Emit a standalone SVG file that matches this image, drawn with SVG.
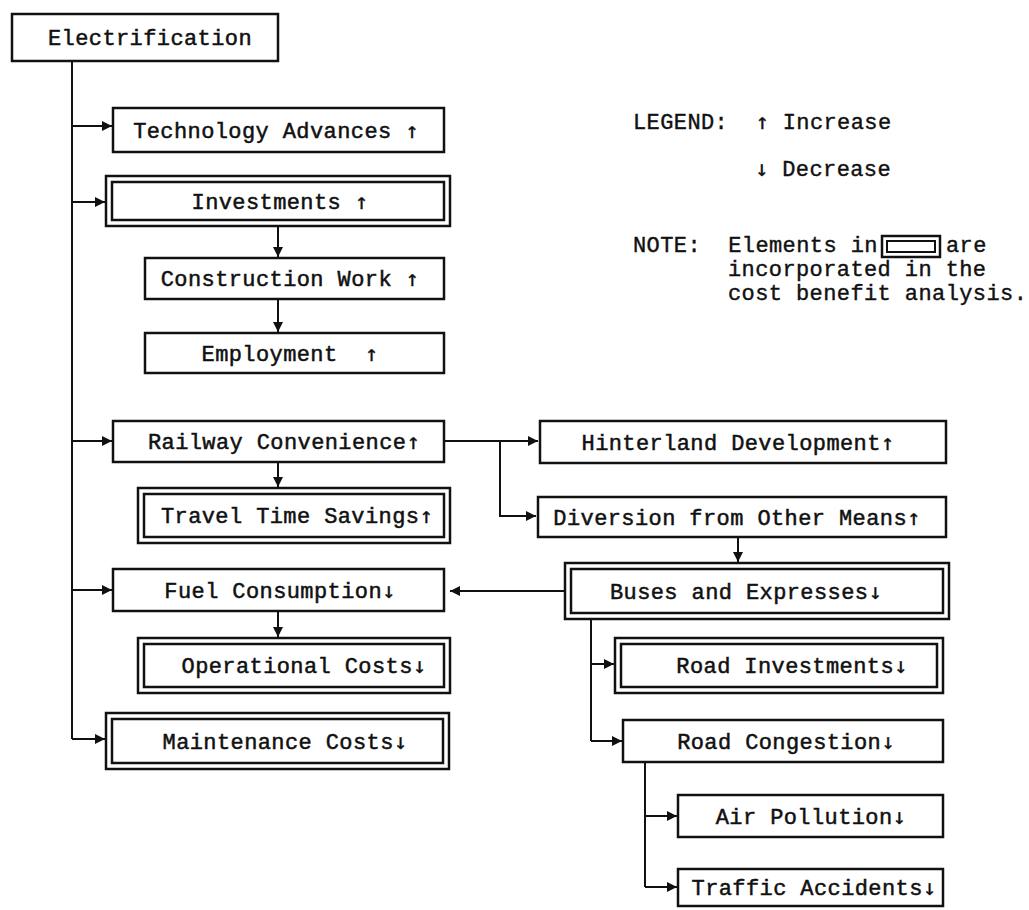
<svg xmlns="http://www.w3.org/2000/svg" width="1029" height="910" viewBox="0 0 1029 910">
<style>
  .box { fill: #fff; stroke: #111; stroke-width: 2.5; }
  .in { fill: none; stroke: #111; stroke-width: 2.5; }
  .t { font-family: "Liberation Mono", "Courier New", monospace; font-size: 22px; letter-spacing: 0.4px; fill: #111; stroke: #111; stroke-width: 0.5; text-anchor: middle; }
  .l { font-family: "Liberation Mono", "Courier New", monospace; font-size: 22px; letter-spacing: 0.4px; fill: #111; stroke: #111; stroke-width: 0.4; }
  .a { font-family: "DejaVu Sans Mono", "DejaVu Sans", monospace; fill: #111; stroke: #111; stroke-width: 0.3; }
  .c { fill: none; stroke: #111; stroke-width: 2; }
</style>
<defs>
  <marker id="ah" viewBox="0 0 10 10" refX="10" refY="5" markerWidth="6" markerHeight="5" orient="auto" markerUnits="strokeWidth">
    <path d="M0,0 L10,5 L0,10 Z" fill="#111"/>
  </marker>
</defs>
<rect width="1029" height="910" fill="#fff"/>

<g id="connectors">
  <path class="c" d="M72,61 V739"/>
  <path class="c" d="M72,126 H112" marker-end="url(#ah)"/>
  <path class="c" d="M72,202 H105" marker-end="url(#ah)"/>
  <path class="c" d="M278,226 V257" marker-end="url(#ah)"/>
  <path class="c" d="M278,299 V332" marker-end="url(#ah)"/>
  <path class="c" d="M72,441 H112" marker-end="url(#ah)"/>
  <path class="c" d="M278,462 V487" marker-end="url(#ah)"/>
  <path class="c" d="M72,590 H112" marker-end="url(#ah)"/>
  <path class="c" d="M278,611 V637" marker-end="url(#ah)"/>
  <path class="c" d="M72,739 H105" marker-end="url(#ah)"/>
  <path class="c" d="M444,441 H538" marker-end="url(#ah)"/>
  <path class="c" d="M500,441 V516 H536" marker-end="url(#ah)"/>
  <path class="c" d="M738,537 V562" marker-end="url(#ah)"/>
  <path class="c" d="M565,591 H450" marker-end="url(#ah)"/>
  <path class="c" d="M591,619 V741"/>
  <path class="c" d="M591,664 H614" marker-end="url(#ah)"/>
  <path class="c" d="M591,741 H622" marker-end="url(#ah)"/>
  <path class="c" d="M645,762 V887"/>
  <path class="c" d="M645,816 H677" marker-end="url(#ah)"/>
  <path class="c" d="M645,887 H677" marker-end="url(#ah)"/>
</g>

<g id="electrification">
  <rect class="box" x="12" y="14" width="266" height="47"/>
  <text class="t" x="150" y="45">Electrification</text>
</g>
<g id="technology">
  <rect class="box" x="113" y="108" width="331" height="44"/>
  <text class="t" x="276" y="138">Technology Advances <tspan class="a">↑</tspan></text>
</g>
<g id="investments">
  <rect class="box" x="106" y="176" width="344" height="50"/>
  <rect class="in" x="112" y="182" width="332" height="38"/>
  <text class="t" x="280" y="209">Investments <tspan class="a">↑</tspan></text>
</g>
<g id="construction">
  <rect class="box" x="145" y="258" width="299" height="41"/>
  <text class="t" x="290" y="286">Construction Work <tspan class="a">↑</tspan></text>
</g>
<g id="employment">
  <rect class="box" x="145" y="333" width="299" height="40"/>
  <text class="t" x="290" y="361" xml:space="preserve">Employment  <tspan class="a">↑</tspan></text>
</g>
<g id="railway">
  <rect class="box" x="113" y="421" width="331" height="41"/>
  <text class="t" x="284" y="449">Railway Convenience<tspan class="a">↑</tspan></text>
</g>
<g id="travel">
  <rect class="box" x="138" y="488" width="312" height="55"/>
  <rect class="in" x="144" y="494" width="300" height="43"/>
  <text class="t" x="297" y="523">Travel Time Savings<tspan class="a">↑</tspan></text>
</g>
<g id="fuel">
  <rect class="box" x="113" y="569" width="331" height="42"/>
  <text class="t" x="280" y="598">Fuel Consumption<tspan class="a">↓</tspan></text>
</g>
<g id="operational">
  <rect class="box" x="138" y="638" width="312" height="55"/>
  <rect class="in" x="144" y="644" width="300" height="43"/>
  <text class="t" x="304" y="673">Operational Costs<tspan class="a">↓</tspan></text>
</g>
<g id="maintenance">
  <rect class="box" x="106" y="713" width="343" height="56"/>
  <rect class="in" x="112" y="719" width="331" height="44"/>
  <text class="t" x="285" y="749">Maintenance Costs<tspan class="a">↓</tspan></text>
</g>
<g id="hinterland">
  <rect class="box" x="540" y="421" width="406" height="42"/>
  <text class="t" x="738" y="450">Hinterland Development<tspan class="a">↑</tspan></text>
</g>
<g id="diversion">
  <rect class="box" x="538" y="497" width="408" height="40"/>
  <text class="t" x="737" y="525">Diversion from Other Means<tspan class="a">↑</tspan></text>
</g>
<g id="buses">
  <rect class="box" x="565" y="563" width="384" height="56"/>
  <rect class="in" x="571" y="569" width="372" height="44"/>
  <text class="t" x="746" y="599">Buses and Expresses<tspan class="a">↓</tspan></text>
</g>
<g id="road-investments">
  <rect class="box" x="615" y="638" width="328" height="55"/>
  <rect class="in" x="621" y="644" width="316" height="43"/>
  <text class="t" x="792" y="673">Road Investments<tspan class="a">↓</tspan></text>
</g>
<g id="road-congestion">
  <rect class="box" x="623" y="720" width="320" height="42"/>
  <text class="t" x="786" y="749">Road Congestion<tspan class="a">↓</tspan></text>
</g>
<g id="air-pollution">
  <rect class="box" x="678" y="795" width="265" height="42"/>
  <text class="t" x="811" y="824">Air Pollution<tspan class="a">↓</tspan></text>
</g>
<g id="traffic-accidents">
  <rect class="box" x="678" y="869" width="265" height="37"/>
  <text class="t" x="814" y="895">Traffic Accidents<tspan class="a">↓</tspan></text>
</g>

<g id="legend">
  <text class="l" x="633" y="129" xml:space="preserve">LEGEND:  <tspan class="a">↑</tspan> Increase</text>
  <text class="l" x="755" y="176" xml:space="preserve"><tspan class="a">↓</tspan> Decrease</text>
  <text class="l" x="633" y="252" xml:space="preserve">NOTE:  Elements in</text>
  <rect x="882" y="236" width="58" height="21" fill="none" stroke="#111" stroke-width="2.5"/>
  <rect x="887" y="241" width="48" height="11" fill="none" stroke="#111" stroke-width="2"/>
  <text class="l" x="946" y="252">are</text>
  <text class="l" x="728" y="276">incorporated in the</text>
  <text class="l" x="728" y="300">cost benefit analysis.</text>
</g>
</svg>
